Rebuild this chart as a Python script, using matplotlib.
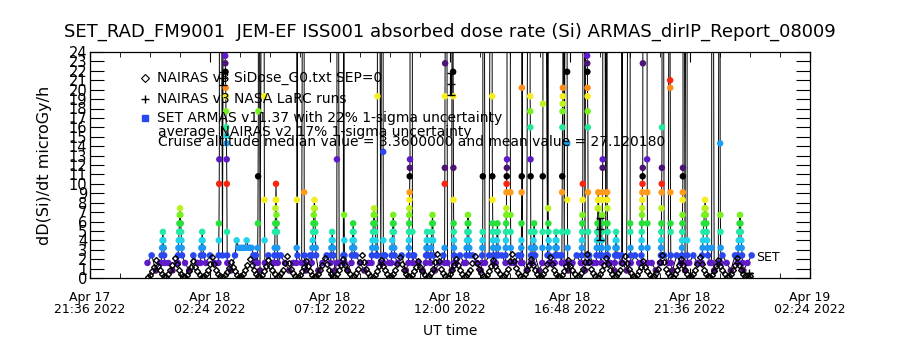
import numpy as np
import pandas as pd
import matplotlib
matplotlib.use('Agg')
import matplotlib.pyplot as plt
import matplotlib.dates as mdates
from matplotlib.colors import LinearSegmentedColormap
from matplotlib.ticker import FixedLocator
from matplotlib import font_manager

# ---- data (hours after 2022-04-18 00:00 UT) ----
day0 = pd.Timestamp('2022-04-18 00:00')

# SET ARMAS background samples, every 10 min from -0.1 h
armas_base_t0 = -0.1
armas_base_step = 10.0  # minutes
armas_base_v = [
    1.6, 2.4, 0.8, 1.6, 2.4, 1.6,
    0.8, 1.6, 2.4, 1.6, 0.8, 2.4,
    1.6, 0.8, 1.6, 2.4, 1.6, 0.8,
    2.4, 1.6, 0.8, 1.6, 2.4, 1.6,
    0.8, 1.6, 2.4, 0.8, 1.6, 2.4,
    1.6, 0.8, 2.4, 1.6, 0.8, 1.6,
    2.4, 1.6, 0.8, 2.4, 1.6, 0.8,
    1.6, 2.4, 1.6, 0.8, 1.6, 2.4,
    0.8, 1.6, 2.4, 1.6, 0.8, 1.6,
    2.4, 0.8, 1.6, 2.4, 1.6, 0.8,
    1.6, 2.4, 0.8, 1.6, 2.4, 1.6,
    0.8, 1.6, 2.4, 0.8, 1.6, 2.4,
    1.6, 0.8, 1.6, 2.4, 1.6, 0.8,
    2.4, 1.6, 0.8, 1.6, 2.4, 1.6,
    0.8, 2.4, 1.6, 0.8, 1.6, 2.4,
    1.6, 0.8, 2.4, 1.6, 0.8, 1.6,
    2.4, 1.6, 0.8, 2.4, 1.6, 0.8,
    1.6, 2.4, 1.6, 0.8, 2.4, 1.6,
    0.8, 1.6, 2.4, 1.6, 0.8, 2.4,
    1.6, 0.8, 1.6, 2.4, 1.6, 0.8,
    2.4, 1.6, 0.8, 1.6, 2.4, 1.6,
    0.8, 2.4, 1.6, 0.8, 1.6, 2.4,
    1.6, 0.8, 2.4, 1.6, 0.8, 1.6,
    2.4, 1.6, 0.8, 2.4, 1.6, 0.8,
    1.6, 2.4,
]

# SET ARMAS bursts: (start hour, cadence in minutes, values); 99 = off scale
armas_bursts = [
    (0.45, 1.0, [1.6, 2.4, 3.2, 4.0, 4.9, 4.0, 3.2, 2.4, 1.6]),
    (1.11, 0.8, [1.6, 2.4, 3.2, 4.0, 4.9, 5.8, 6.7, 7.4, 6.7, 5.8, 4.9, 4.0, 3.2, 2.4]),
    (2.02, 1.0, [1.6, 2.4, 3.2, 4.0, 4.9, 4.0, 3.2, 2.4]),
    (2.74, 0.4, [1.6, 2.4, 4.0, 5.8, 10.0, 12.6, 99]),
    (3.00, 0.4, [99, 23.6, 22.8, 21.9, 20.2, 19.3, 17.7, 16.0, 15.1, 14.3, 12.6, 10.0, 4.9, 2.4, 1.6]),
    (3.40, 4.0, [2.4, 4.0, 3.2, 3.2, 3.2, 3.2, 3.2, 4.0, 3.2, 3.2, 3.2, 2.4, 1.6]),
    (4.30, 0.5, [1.6, 3.2, 5.8, 10.8, 17.7, 99]),
    (4.56, 0.5, [99, 19.3, 8.3, 4.0, 1.6]),
    (4.97, 0.6, [1.6, 2.4, 3.2, 4.9, 5.8, 7.4, 8.3, 10.0, 8.3, 6.7, 5.8, 4.9, 3.2, 2.4, 1.6]),
    (5.86, 0.4, [1.6, 3.2, 8.3, 99]),
    (6.16, 0.4, [99, 9.1, 2.4, 1.6]),
    (6.47, 0.8, [1.6, 2.4, 3.2, 4.0, 4.9, 5.8, 6.7, 7.4, 8.3, 7.4, 5.8, 4.9, 3.2, 2.4]),
    (7.22, 1.0, [1.6, 2.4, 3.2, 4.0, 4.9, 4.0, 3.2, 2.4]),
    (7.47, 0.4, [1.6, 12.6, 99]),
    (7.76, 0.4, [99, 6.7, 4.0, 2.4, 1.6]),
    (8.06, 0.8, [1.6, 2.4, 3.2, 4.0, 4.9, 5.8, 4.9, 4.0, 3.2, 2.4]),
    (8.86, 0.9, [1.6, 2.4, 3.2, 4.0, 4.9, 5.8, 6.7, 7.4, 6.7, 5.8, 4.9, 4.0, 3.2, 2.4]),
    (9.09, 0.4, [2.4, 19.3, 99]),
    (9.32, 0.4, [99, 13.4, 4.0, 2.4, 1.6]),
    (9.65, 0.8, [1.6, 2.4, 3.2, 4.0, 4.9, 5.8, 6.7, 5.8, 4.9, 3.2, 2.4]),
    (10.34, 0.3, [1.6, 2.4, 3.2, 4.0, 4.9, 5.8, 6.7, 7.4, 8.3, 9.1, 10.8, 11.7, 12.6, 99]),
    (10.49, 0.3, [99, 4.9, 2.4, 1.6]),
    (11.03, 0.8, [1.6, 2.4, 3.2, 4.0, 4.9, 4.0, 3.2, 2.4]),
    (11.22, 0.8, [1.6, 2.4, 3.2, 4.0, 4.9, 5.8, 6.7, 5.8, 4.0, 2.4]),
    (11.78, 0.3, [1.6, 3.2, 10.0, 11.7, 19.3, 22.8, 99]),
    (12.12, 0.3, [99, 21.9, 19.3, 11.7, 8.3, 5.8, 4.9, 4.0, 3.2, 2.4, 1.6]),
    (12.64, 0.8, [1.6, 2.4, 3.2, 4.0, 4.9, 5.8, 6.7, 5.8, 4.9, 4.0, 3.2, 2.4]),
    (13.28, 0.4, [1.6, 2.4, 3.2, 4.0, 4.9, 10.8, 99]),
    (13.68, 0.4, [99, 19.3, 10.8, 8.3, 5.8, 4.9, 4.0, 3.2, 2.4, 1.6]),
    (13.83, 0.8, [1.6, 2.4, 3.2, 4.0, 4.9, 5.8, 4.9, 3.2, 2.4]),
    (14.22, 0.3, [1.6, 2.4, 3.2, 4.0, 4.9, 5.8, 6.7, 7.4, 9.1, 10.0, 10.8, 11.7, 12.6, 99]),
    (14.41, 0.3, [99, 9.1, 6.7, 4.9, 3.2, 1.6]),
    (14.84, 0.3, [1.6, 2.4, 3.2, 4.0, 5.8, 9.1, 10.8, 20.2, 99]),
    (15.20, 0.3, [99, 19.3, 17.7, 16.0, 12.6, 10.8, 4.9, 3.2, 2.4, 1.6]),
    (15.30, 0.8, [1.6, 2.4, 3.2, 4.0, 4.9, 5.8, 4.9, 3.2, 2.4]),
    (15.69, 0.4, [1.6, 3.2, 4.9, 10.8, 18.5, 99]),
    (15.92, 0.4, [99, 7.4, 5.8, 4.9, 4.0, 3.2, 2.4, 1.6]),
    (16.19, 0.8, [1.6, 2.4, 3.2, 4.0, 4.9, 4.0, 3.2, 2.4]),
    (16.47, 0.3, [1.6, 2.4, 4.9, 9.1, 10.8, 16.0, 17.7, 18.5, 19.3, 20.2, 99]),
    (16.68, 0.3, [99, 21.9, 14.3, 8.3, 4.9, 3.2, 1.6]),
    (17.26, 0.4, [1.6, 2.4, 3.2, 4.0, 4.9, 5.8, 6.7, 8.3, 10.0, 99]),
    (17.48, 0.3, [99, 23.6, 22.8, 21.9, 20.2, 19.3, 17.7, 16.0, 9.1, 4.9, 2.4, 1.6]),
    (17.85, 0.6, [1.6, 2.4, 3.2, 4.0, 4.9, 5.8, 7.4, 8.3, 9.1, 8.3, 7.4, 5.8, 4.9, 3.2, 2.4]),
    (18.06, 0.3, [1.6, 2.4, 3.2, 4.0, 4.9, 5.8, 6.7, 8.3, 9.1, 11.7, 12.6, 99]),
    (18.28, 0.3, [99, 9.1, 8.3, 7.4, 5.8, 4.9, 3.2, 2.4, 1.6]),
    (18.59, 0.8, [1.6, 2.4, 3.2, 4.0, 4.9, 4.0, 3.2, 2.4]),
    (18.86, 0.4, [1.6, 2.4, 99]),
    (19.20, 0.4, [99, 5.8, 4.9, 3.2, 2.4, 1.6]),
    (19.65, 0.3, [1.6, 2.4, 3.2, 4.0, 4.9, 5.8, 6.7, 7.4, 8.3, 9.1, 10.0, 10.8, 11.7, 22.8, 99]),
    (19.88, 0.3, [99, 12.6, 9.1, 5.8, 3.2, 1.6]),
    (20.43, 0.3, [1.6, 2.4, 3.2, 4.0, 4.9, 5.8, 7.4, 9.1, 10.0, 11.7, 16.0, 99]),
    (20.80, 0.3, [99, 21.0, 20.2, 9.1, 5.8, 4.9, 2.4, 1.6]),
    (21.27, 0.3, [1.6, 2.4, 3.2, 4.0, 4.9, 5.8, 6.7, 8.3, 9.1, 10.8, 11.7, 99]),
    (21.48, 0.3, [99, 4.0, 2.4, 1.6]),
    (22.07, 1.0, [1.6, 2.4, 3.2, 4.0, 4.9, 5.8, 6.7, 7.4, 8.3, 7.4, 6.7, 5.8, 4.9, 4.0, 3.2, 2.4]),
    (22.46, 0.4, [1.6, 3.2, 99]),
    (22.80, 0.4, [99, 14.3, 6.7, 4.9, 3.2, 1.6]),
    (23.50, 1.0, [1.6, 2.4, 3.2, 4.0, 4.9, 5.8, 6.7, 5.8, 4.9, 4.0, 3.2, 2.4, 1.6]),
]

# NAIRAS v3 SiDose_G0, every 5 min from -0.1 h
nairas_t0 = -0.1
nairas_step = 5.0
nairas_v = [
    0.1, 0.3, 0.7, 1.2, 1.9, 1.3, 0.8, 0.4, 0.2,
    0.1, 0.4, 0.8, 1.4, 2.1, 1.5, 0.9, 0.4, 0.2,
    0.1, 0.3, 0.7, 1.2, 1.8, 1.2, 0.7, 0.3, 0.1,
    0.2, 0.4, 0.9, 1.5, 2.2, 1.5, 0.9, 0.4, 0.2,
    0.1, 0.3, 0.6, 1.1, 1.7, 1.2, 0.7, 0.3, 0.1,
    0.2, 0.4, 0.8, 1.4, 2.0, 1.4, 0.8, 0.4, 0.2,
    0.1, 0.3, 0.7, 1.3, 1.9, 1.3, 0.8, 0.4, 0.1,
    0.2, 0.5, 0.9, 1.6, 2.3, 1.6, 1.0, 0.5, 0.2,
    0.1, 0.3, 0.7, 1.2, 1.8, 1.3, 0.7, 0.3, 0.1,
    0.2, 0.4, 0.8, 1.4, 2.1, 1.5, 0.9, 0.4, 0.2,
    0.1, 0.4, 0.8, 1.4, 2.0, 1.4, 0.8, 0.4, 0.1,
    0.2, 0.5, 1.0, 1.7, 2.4, 1.7, 1.0, 0.5, 0.2,
    0.1, 0.3, 0.7, 1.3, 1.9, 1.3, 0.8, 0.4, 0.1,
    0.2, 0.4, 0.9, 1.5, 2.2, 1.5, 0.9, 0.4, 0.2,
    0.1, 0.3, 0.7, 1.2, 1.8, 1.2, 0.7, 0.3, 0.1,
    0.2, 0.5, 1.0, 1.7, 2.5, 1.8, 1.0, 0.5, 0.2,
    0.1, 0.4, 0.8, 1.4, 2.0, 1.4, 0.8, 0.4, 0.1,
    0.2, 0.5, 0.9, 1.6, 2.3, 1.6, 1.0, 0.5, 0.2,
    0.1, 0.3, 0.7, 1.3, 1.9, 1.3, 0.8, 0.4, 0.1,
    0.2, 0.5, 1.0, 1.8, 2.6, 1.8, 1.1, 0.5, 0.2,
    0.1, 0.4, 0.8, 1.4, 2.0, 1.4, 0.8, 0.4, 0.1,
    0.2, 0.4, 0.9, 1.5, 2.2, 1.5, 0.9, 0.4, 0.2,
    0.1, 0.3, 0.7, 1.3, 1.9, 1.3, 0.8, 0.4, 0.1,
    0.2, 0.5, 1.0, 1.7, 2.5, 1.7, 1.0, 0.5, 0.2,
    0.1, 0.4, 0.8, 1.4, 2.1, 1.5, 0.9, 0.4, 0.1,
    0.2, 0.5, 0.9, 1.6, 2.3, 1.6, 1.0, 0.5, 0.2,
    0.1, 0.3, 0.7, 1.2, 1.8, 1.2, 0.7, 0.3, 0.1,
    0.2, 0.5, 1.0, 1.7, 2.4, 1.7, 1.0, 0.5, 0.2,
    0.1, 0.4, 0.8, 1.4, 2.0, 1.4, 0.8, 0.4, 0.1,
    0.2, 0.4, 0.9, 1.5, 2.2, 1.5, 0.9, 0.4, 0.2,
    0.1, 0.3, 0.7, 1.3, 1.9, 1.3, 0.8, 0.4, 0.1,
    0.2, 0.4, 0.8, 1.4, 2.1, 1.4, 0.8, 0.4, 0.2,
    0.1, 0.2,
]

# NAIRAS v3 NASA LaRC runs with 1-sigma bars
larc_t = [2.92, 12.04, 18.00, 23.95]
larc_v = [21.2, 20.6, 5.2, 0.5]
larc_err = [0.7, 1.2, 1.2, 0.0]

title = 'SET_RAD_FM9001  JEM-EF ISS001 absorbed dose rate (Si) ARMAS_dirIP_Report_08009'
legend_lines = [
    'NAIRAS v3 SiDose_G0.txt SEP=0',
    'NAIRAS v3 NASA LaRC runs',
    'SET ARMAS v11.37 with 22% 1-sigma uncertainty',
    'average NAIRAS v2 17% 1-sigma uncertainty',
    'Cruise altitude median value = 3.3600000 and mean value = 27.120180',
]

# ---- build series ----
def hours_to_num(h):
    return mdates.date2num(day0.to_pydatetime()) + np.asarray(h, dtype=float) / 24.0

base_t = armas_base_t0 + np.arange(len(armas_base_v)) * armas_base_step / 60.0
base_v = np.array(armas_base_v)
bt_list, bv_list, spans = [], [], []
for start, cad, vals in armas_bursts:
    tt = start + np.arange(len(vals)) * cad / 60.0
    bt_list.append(tt)
    bv_list.append(vals)
    spans.append((tt[0] - 1 / 60.0, tt[-1] + 1 / 60.0))
keep = np.ones(len(base_t), bool)
for a, b in spans:
    keep &= ~((base_t >= a) & (base_t <= b))
armas_t = np.concatenate([base_t[keep]] + bt_list)
armas_v = np.concatenate([base_v[keep]] + [np.array(v) for v in bv_list])
order = np.argsort(armas_t)
armas_t, armas_v = armas_t[order], armas_v[order]

nairas_t = nairas_t0 + np.arange(len(nairas_v)) * nairas_step / 60.0

# cyclic IDL-like colour table, wraps every 11 units
anchors = [(0.0, '#3a0c50'), (0.8, '#4e1478'), (1.6, '#5e1ac8'), (2.4, '#2848f0'),
           (3.2, '#1e9af2'), (4.0, '#22d4ea'), (4.9, '#22eaa8'), (5.8, '#28e038'),
           (6.7, '#78f020'), (7.4, '#b8f020'), (8.3, '#f4f020'), (9.1, '#ff9a1a'),
           (10.0, '#ff2410'), (10.6, '#000000'), (11.0, '#000000')]
cmap = LinearSegmentedColormap.from_list('idl', [(p / 11.0, c) for p, c in anchors])
dot_colors = cmap((armas_v % 11.0) / 11.0)

avail = {f.name for f in font_manager.fontManager.ttflist}
narrow = 'Liberation Sans Narrow' if 'Liberation Sans Narrow' in avail else 'DejaVu Sans'

# ---- figure ----
fig = plt.figure(figsize=(9, 3.5), dpi=100)
ax = fig.add_axes([90 / 900, 1 - 278 / 350, 720 / 900, 226 / 350])

x_armas = hours_to_num(armas_t)
ax.plot(x_armas, armas_v, color='k', lw=0.7, zorder=2)
ax.scatter(x_armas, armas_v, c=dot_colors, s=22, marker='o', linewidths=0, zorder=3)
ax.plot(hours_to_num(nairas_t), nairas_v, ls='none', marker='D', ms=3.0,
        mfc='none', mec='k', mew=1.0, zorder=4)
ax.errorbar(hours_to_num(larc_t), larc_v, yerr=larc_err, fmt='+', color='k',
            ms=6, mew=1.0, elinewidth=1.6, capsize=3, zorder=5)
ax.annotate('SET', xy=(x_armas[-1], 2.2), xytext=(3, 0), textcoords='offset points',
            va='center', ha='left', fontsize=9, family=narrow)

start = day0 - pd.Timedelta(hours=2.4)
x0 = mdates.date2num(start.to_pydatetime())
ax.set_xlim(x0, x0 + 28.8 / 24)
ax.set_ylim(0, 24)
ax.xaxis.set_major_locator(FixedLocator([x0 + k * 4.8 / 24 for k in range(7)]))
ax.xaxis.set_minor_locator(FixedLocator([x0 + k * 1.2 / 24 for k in range(25)]))
ax.xaxis.set_major_formatter(mdates.DateFormatter('%b %d\n%H:%M %Y'))
ax.set_yticks(range(0, 25))
ax.tick_params(axis='both', which='both', direction='in', top=True, right=True, color='k')
ax.tick_params(axis='x', which='major', length=7, pad=9, labelsize=9)
ax.tick_params(axis='x', which='minor', length=3.5)
ax.tick_params(axis='y', which='major', length=10, pad=2, labelsize=10.5)
for lab in ax.get_xticklabels():
    lab.set_family(narrow)
    lab.set_linespacing(0.95)
for lab in ax.get_yticklabels():
    lab.set_family(narrow)
for sp in ax.spines.values():
    sp.set_linewidth(0.9)

# legend block
lx_m, lx_t = (145 - 90) / 720, (157 - 90) / 720
ys = [(278 - y) / 226 for y in (78, 99, 118, 132, 142)]
ax.plot([lx_m], [ys[0]], transform=ax.transAxes, marker='D', ms=3.6, mfc='none',
        mec='k', mew=0.8, ls='none', clip_on=False)
ax.plot([lx_m], [ys[1]], transform=ax.transAxes, marker='+', ms=6, mew=1.0,
        color='k', ls='none', clip_on=False)
ax.plot([lx_m], [ys[2]], transform=ax.transAxes, marker='s', ms=4, color='#2848f0',
        ls='none', clip_on=False)
for i, txt in enumerate(legend_lines):
    xx = lx_t if i < 3 else (158 - 90) / 720
    ax.text(xx, ys[i], txt, transform=ax.transAxes, fontsize=10, va='center',
            ha='left', zorder=6)

fig.text(0.5, 1 - 32 / 350, title, ha='center', va='center', fontsize=13)
fig.text(45 / 900, 1 - 165 / 350, 'dD(Si)/dt microGy/h', rotation=90,
         ha='center', va='center', fontsize=11.5)
fig.text(450 / 900, 1 - 331 / 350, 'UT time', ha='center', va='center', fontsize=10)

fig.savefig('out.png', dpi=100)
